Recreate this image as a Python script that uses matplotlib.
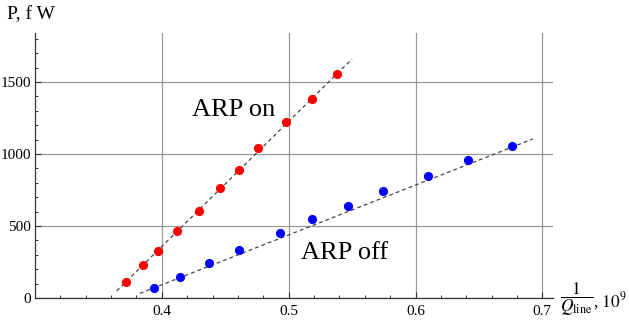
import matplotlib.pyplot as plt
from matplotlib.ticker import MultipleLocator

plt.rcParams['font.family'] = ['Liberation Serif', 'DejaVu Serif']
plt.rcParams['mathtext.fontset'] = 'stix'

# 1/Q_line (x 1e9) and power, fW
on_x = [0.372, 0.385, 0.397, 0.412, 0.429, 0.446, 0.461, 0.476, 0.498, 0.518, 0.538]
on_y = [109, 229, 324, 463, 606, 762, 889, 1042, 1222, 1382, 1558]
off_x = [0.394, 0.414, 0.437, 0.461, 0.493, 0.518, 0.547, 0.574, 0.610, 0.641, 0.676]
off_y = [72, 148, 241, 336, 454, 549, 639, 745, 847, 958, 1056]

# dashed fit lines (end points)
on_fit_x = [0.3644, 0.550]
on_fit_y = [49, 1660]
off_fit_x = [0.3827, 0.6924]
off_fit_y = [32, 1104]

fig = plt.figure(figsize=(6.29, 3.26), dpi=100)
ax = fig.add_axes([35 / 629, 28 / 326, 518 / 629, 265 / 326])

ax.plot(on_fit_x, on_fit_y, linestyle=(0, (3, 2.5)), color='#444444', linewidth=0.9, zorder=2)
ax.plot(off_fit_x, off_fit_y, linestyle=(0, (3, 2.5)), color='#444444', linewidth=0.9, zorder=2)
ax.plot(on_x, on_y, 'o', color='#ff0000', markersize=6.6, markeredgewidth=0, zorder=3)
ax.plot(off_x, off_y, 'o', color='#0000ff', markersize=6.6, markeredgewidth=0, zorder=3)

ax.text(0.424, 1264, 'ARP on', fontsize=19, va='baseline', ha='left')
ax.text(0.5098, 271, 'ARP off', fontsize=19, va='baseline', ha='left')

ax.set_xlim(0.30, 0.7084)
ax.set_ylim(0, 1840)
ax.set_xticks([0.4, 0.5, 0.6, 0.7])
ax.set_yticks([0, 500, 1000, 1500])
ax.xaxis.set_minor_locator(MultipleLocator(0.02))
ax.yaxis.set_minor_locator(MultipleLocator(100))
ax.tick_params(which='major', direction='in', length=4, width=0.8, color='#333333',
               labelsize=11, pad=3)
ax.tick_params(which='minor', direction='in', length=2.5, width=0.7, color='#333333')
ax.tick_params(axis='x', which='major', pad=5)

ax.grid(True, which='major', color='#999999', linewidth=0.9)
for s in ['top', 'right']:
    ax.spines[s].set_visible(False)
for s in ['left', 'bottom']:
    ax.spines[s].set_color('#333333')
    ax.spines[s].set_linewidth(0.9)

fig.text(7 / 629, 1 - 19 / 326, 'P, f W', fontsize=14, va='baseline', ha='left')
fig.text(560 / 629, 1 - 299 / 326, r'$\dfrac{1}{Q_{\rm line}}$', fontsize=12.5,
         va='center', ha='left')
fig.text(593 / 629, 1 - 307 / 326, r', $10^9$', fontsize=12.5, va='baseline', ha='left')

fig.savefig('out.png', dpi=100)
